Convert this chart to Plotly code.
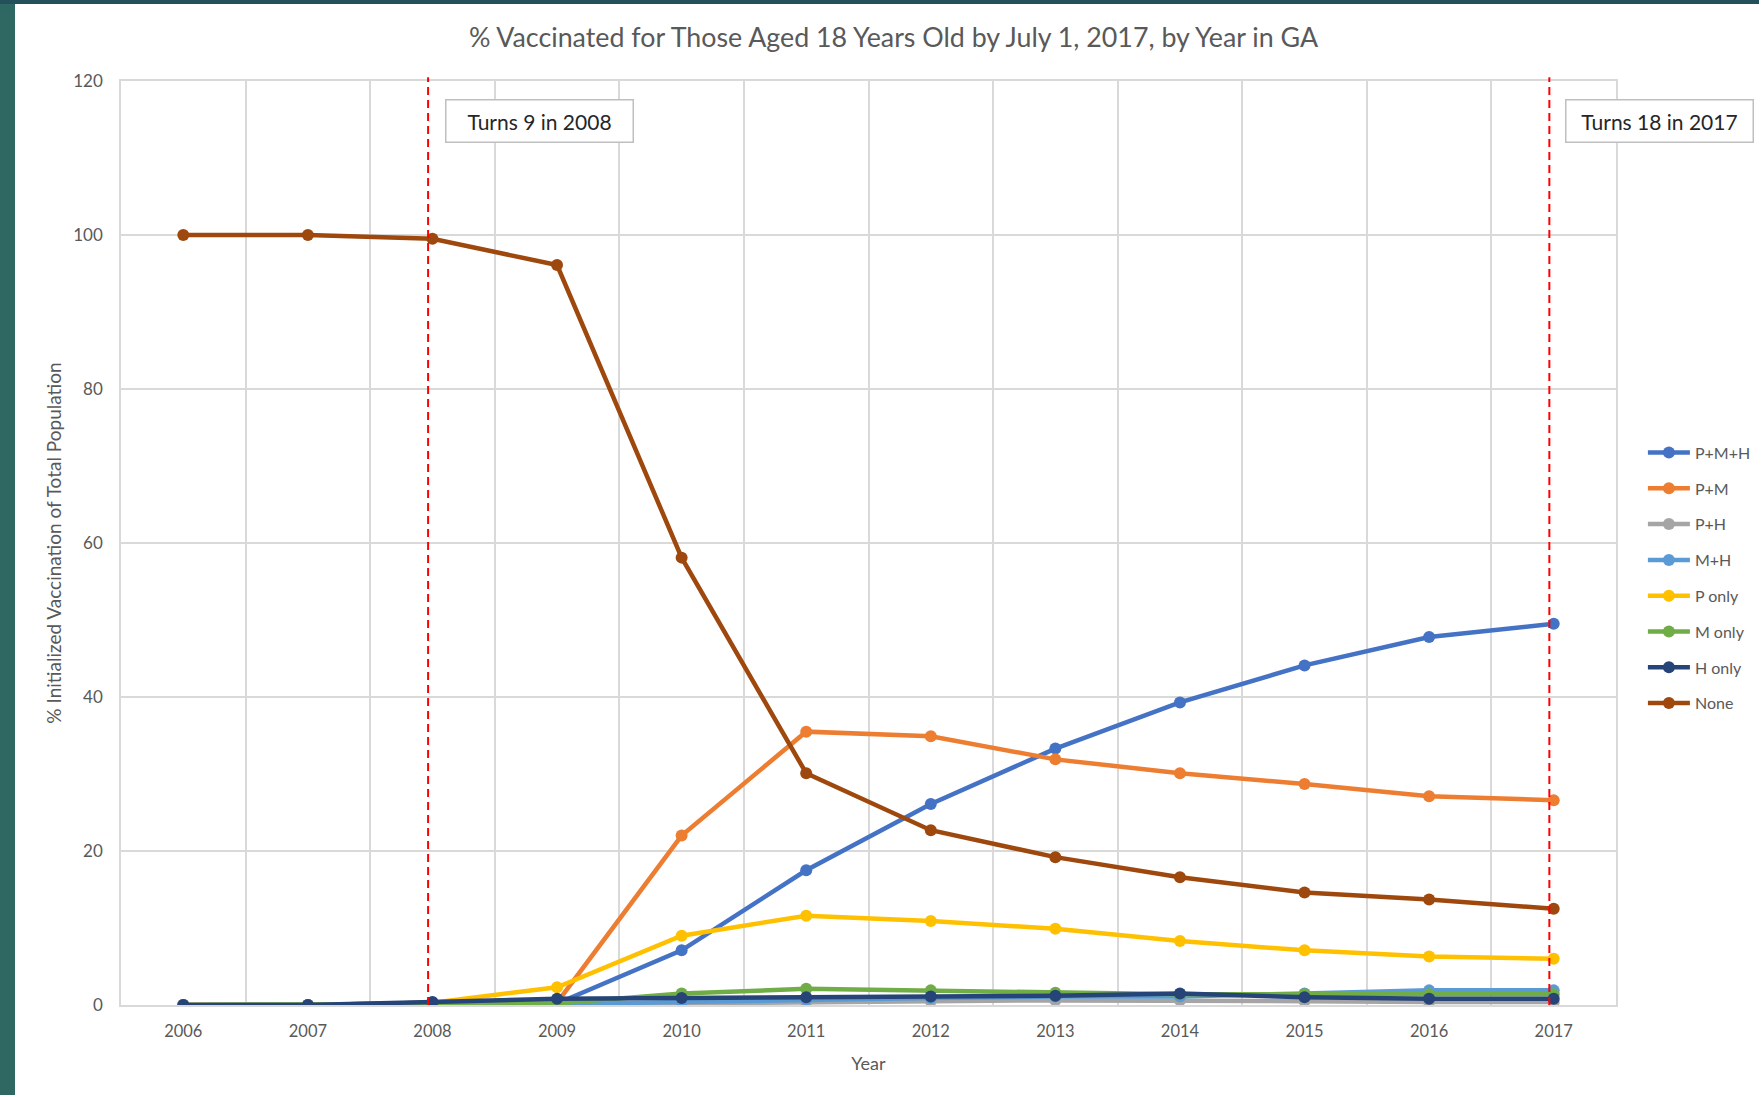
import plotly.graph_objects as go

# Years on the category axis
years = [2006, 2007, 2008, 2009, 2010, 2011, 2012, 2013, 2014, 2015, 2016, 2017]

# Share of the 18-year-old cohort (%) by vaccination combination
p_m_h = [0, 0, 0.3, 0.2, 7.1, 17.5, 26.1, 33.3, 39.3, 44.1, 47.8, 49.5]
p_m = [0, 0, 0.3, 0.3, 22.0, 35.5, 34.9, 31.9, 30.1, 28.7, 27.1, 26.6]
p_h = [0, 0, 0.1, 0.1, 0.2, 0.4, 0.5, 0.6, 0.6, 0.5, 0.4, 0.4]
m_h = [0, 0, 0.1, 0.1, 0.4, 0.7, 0.9, 1.1, 1.1, 1.5, 1.9, 1.9]
p_only = [0, 0, 0.3, 2.3, 9.0, 11.6, 10.9, 9.9, 8.3, 7.1, 6.3, 6.0]
m_only = [0, 0, 0.1, 0.2, 1.5, 2.1, 1.9, 1.6, 1.4, 1.4, 1.4, 1.4]
h_only = [0, 0, 0.4, 0.8, 0.9, 1.0, 1.1, 1.2, 1.5, 1.0, 0.8, 0.8]
none = [100, 100, 99.5, 96.1, 58.1, 30.1, 22.7, 19.2, 16.6, 14.6, 13.7, 12.5]

series_names = ["P+M+H", "P+M", "P+H", "M+H", "P only", "M only", "H only", "None"]
series_values = [p_m_h, p_m, p_h, m_h, p_only, m_only, h_only, none]
series_colors = ["#4472C4", "#ED7D31", "#A5A5A5", "#5B9BD5",
                 "#FFC000", "#70AD47", "#264478", "#9E480E"]

y_ticks = [0, 20, 40, 60, 80, 100, 120]
milestones = [("Turns 9 in 2008", 2008), ("Turns 18 in 2017", 2017)]

FONT = "Lato"
GRAY = "#595959"
GRID = "#D9D9D9"

fig = go.Figure()
for i, (name, vals, col) in enumerate(zip(series_names, series_values, series_colors)):
    fig.add_trace(go.Scatter(
        x=years, y=vals, name=name, mode="lines+markers",
        line=dict(color=col, width=4.5),
        marker=dict(color=col, size=12, symbol="circle"),
        legendgroup=f"g{i}",
    ))

# Red dashed reference lines for the cohort milestones
for label, yr in milestones:
    fig.add_shape(type="line", xref="x", yref="paper",
                  x0=yr - 0.035, x1=yr - 0.035, y0=0, y1=1.004,
                  line=dict(color="#FF0000", width=2, dash="8px,5px"))

# Milestone text boxes
box_pos = [(0.2796, 0.957), (1.0288, 0.957)]
for (label, yr), (bx, by) in zip(milestones, box_pos):
    fig.add_annotation(text=label, xref="paper", yref="paper", x=bx, y=by,
                       xanchor="center", yanchor="middle", showarrow=False,
                       width=178, height=33, borderpad=4, borderwidth=1.5,
                       bordercolor="#BFBFBF", bgcolor="white",
                       font=dict(family=FONT, size=21, color="#262626"))

# Teal frame strips along the left and top edges of the page
fig.add_shape(type="rect", xref="paper", yref="paper",
              x0=-121 / 1495, x1=(15 - 121) / 1495, y0=-90 / 924, y1=1 + 81 / 924,
              fillcolor="#2F6762", line=dict(width=0), layer="below")
fig.add_shape(type="rect", xref="paper", yref="paper",
              x0=-121 / 1495, x1=1 + 143 / 1495, y0=1 + 77 / 924, y1=1 + 81 / 924,
              fillcolor="#24505A", line=dict(width=0), layer="below")

fig.update_layout(
    width=1759, height=1095,
    margin=dict(l=121, r=143, t=81, b=90, autoexpand=False),
    paper_bgcolor="white", plot_bgcolor="white",
    font=dict(family=FONT, color=GRAY),
    title=dict(text="% Vaccinated for Those Aged 18 Years Old by July 1, 2017, by Year in GA",
               x=0.508, xanchor="center", y=1 - 38 / 1095, yanchor="middle",
               font=dict(family=FONT, size=26.8, color=GRAY)),
    showlegend=True,
    legend=dict(x=1.018, y=0.462, xanchor="left", yanchor="middle",
                font=dict(family=FONT, size=16, color=GRAY), itemwidth=42,
                tracegroupgap=12, bgcolor="rgba(0,0,0,0)"),
    xaxis=dict(range=[2005.5, 2017.5], tickmode="array", tickvals=years,
               ticktext=[str(y) for y in years], showgrid=False, zeroline=False,
               showline=True, mirror=True, linecolor=GRID, linewidth=1.5,
               ticks="outside", ticklen=10, tickcolor="rgba(0,0,0,0)",
               tickfont=dict(family=FONT, size=16.5, color=GRAY),
               minor=dict(tickmode="linear", tick0=2005.5, dtick=1,
                          showgrid=True, gridcolor=GRID, gridwidth=1.5),
               title=dict(text="Year", font=dict(family=FONT, size=18, color=GRAY),
                          standoff=18)),
    yaxis=dict(range=[0, 120], tickmode="array", tickvals=y_ticks,
               showgrid=True, gridcolor=GRID, gridwidth=1.5, zeroline=False,
               showline=True, mirror=True, linecolor=GRID, linewidth=1.5,
               ticks="outside", ticklen=13, tickcolor="rgba(0,0,0,0)",
               tickfont=dict(family=FONT, size=17, color=GRAY),
               title=dict(text="% Initialized Vaccination of Total Population",
                          font=dict(family=FONT, size=19, color=GRAY), standoff=7)),
)

fig.write_html("out.html")
